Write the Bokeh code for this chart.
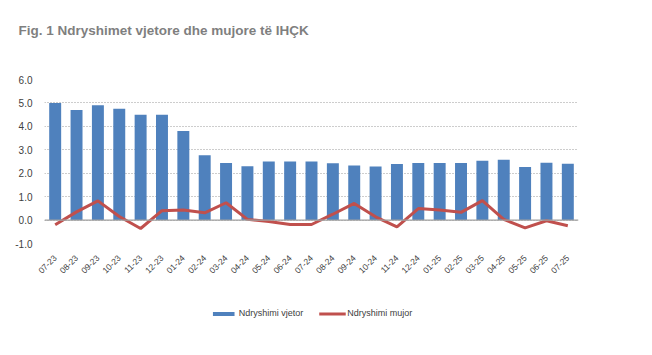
import math
from bokeh.plotting import figure
from bokeh.layouts import column
from bokeh.models import (Range1d, FixedTicker, NumeralTickFormatter, Span,
                          Legend, LegendItem, FactorRange)
from bokeh.embed import file_html
from bokeh.resources import INLINE

months = ["07-23", "08-23", "09-23", "10-23", "11-23", "12-23", "01-24", "02-24",
          "03-24", "04-24", "05-24", "06-24", "07-24", "08-24", "09-24", "10-24",
          "11-24", "12-24", "01-25", "02-25", "03-25", "04-25", "05-25", "06-25", "07-25"]
annual = [5.0, 4.7, 4.9, 4.75, 4.5, 4.5, 3.8, 2.77, 2.44, 2.3, 2.5, 2.5, 2.5, 2.42,
          2.33, 2.29, 2.39, 2.44, 2.44, 2.44, 2.53, 2.58, 2.27, 2.45, 2.4]
monthly = [-0.2, 0.35, 0.82, 0.15, -0.36, 0.4, 0.43, 0.31, 0.74, 0.03, -0.06, -0.19,
           -0.19, 0.25, 0.71, 0.14, -0.29, 0.49, 0.43, 0.33, 0.83, 0.03, -0.33, -0.03, -0.24]
y_ticks = [-1, 0, 1, 2, 3, 4, 5, 6]
series_names = ["Ndryshimi vjetor", "Ndryshimi mujor"]
title_text = "Fig. 1 Ndryshimet vjetore dhe mujore të IHÇK"

BLUE = "#4F81BD"
RED = "#C0504D"
TXT = "#404040"
FONT = "Liberation Sans"
W = 636

# ---- title strip (frames of the column are aligned at x=44) ----
tf = figure(width=W, height=46, x_range=Range1d(0, 1), y_range=Range1d(0, 1),
            output_backend="svg", toolbar_location=None,
            x_axis_location=None, y_axis_location=None,
            min_border_left=0, min_border_right=0, min_border_top=42, min_border_bottom=0)
tf.grid.visible = False
tf.outline_line_color = None
tf.title.text = title_text
tf.title.align = "left"
tf.title.offset = -26
tf.title.standoff = 10
tf.title.text_font = FONT
tf.title.text_font_style = "bold"
tf.title.text_font_size = "13.5px"
tf.title.text_color = "#7f7f7f"

# ---- main chart ----
p = figure(width=W, height=250, x_range=months, y_range=Range1d(-1, 6),
           output_backend="svg", toolbar_location=None,
           min_border_left=44, min_border_right=58, min_border_top=33, min_border_bottom=53)
p.outline_line_color = None
p.background_fill_color = "white"
p.x_range.range_padding = 0

p.vbar(x=months, top=annual, width=0.56, color=BLUE, line_color=None)
p.line(x=months, y=monthly, line_color=RED, line_width=3)

p.xgrid.grid_line_color = None
p.ygrid.ticker = FixedTicker(ticks=y_ticks)
p.ygrid.grid_line_color = "#9a9a9a"
p.ygrid.grid_line_dash = "1 2"
p.ygrid.grid_line_width = 1

zero = Span(location=0, dimension="width", line_color="#a0a0a0", line_width=1.2)
p.add_layout(zero)

p.yaxis.ticker = FixedTicker(ticks=y_ticks)
p.yaxis.formatter = NumeralTickFormatter(format="0.0")
p.yaxis.axis_line_color = None
p.yaxis.major_tick_line_color = None
p.yaxis.minor_tick_line_color = None
p.yaxis.major_label_text_font = FONT
p.yaxis.major_label_text_font_size = "10px"
p.yaxis.major_label_text_color = TXT
p.yaxis.major_label_standoff = 6

p.xaxis.axis_line_color = None
p.xaxis.major_tick_line_color = None
p.xaxis.minor_tick_line_color = None
p.xaxis.major_label_orientation = math.pi / 4
p.xaxis.major_label_text_font = FONT
p.xaxis.major_label_text_font_size = "8.5px"
p.xaxis.major_label_text_color = TXT
p.xaxis.major_label_standoff = 7

# ---- legend strip: same series drawn out of view, only their legend shows ----
lf = figure(width=W, height=34, x_range=FactorRange(*months), y_range=Range1d(10, 11),
            output_backend="svg", toolbar_location=None,
            x_axis_location=None, y_axis_location=None,
            min_border_left=0, min_border_right=14, min_border_top=0, min_border_bottom=0)
lf.grid.visible = False
lf.outline_line_color = None
bar_proxy = lf.vbar(x=months, top=annual, width=0.56, color=BLUE, line_color=None)
line_proxy = lf.line(x=months, y=monthly, line_color=RED, line_width=3)

legend = Legend(items=[LegendItem(label=series_names[0], renderers=[bar_proxy]),
                       LegendItem(label=series_names[1], renderers=[line_proxy])],
                orientation="horizontal", location="center",
                glyph_width=27, glyph_height=5, label_standoff=2, spacing=15,
                padding=0, margin=0, border_line_color=None, background_fill_alpha=0,
                label_text_font=FONT, label_text_font_size="9px",
                label_text_color=TXT, label_height=12)
lf.add_layout(legend)

open("out.html", "w").write(file_html(column(tf, p, lf, spacing=0), INLINE))
